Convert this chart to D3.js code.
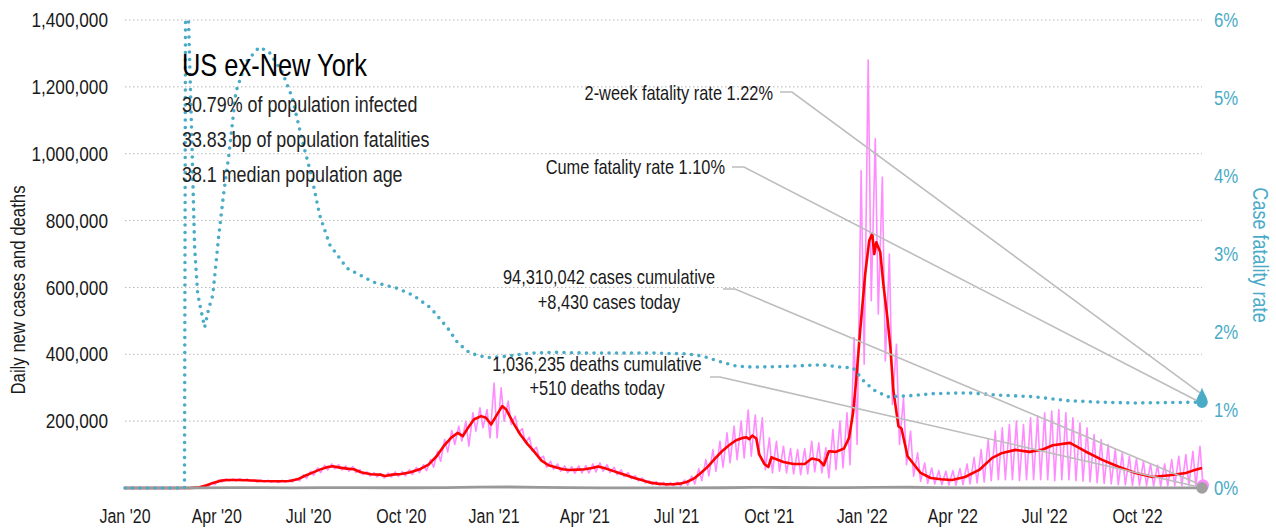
<!DOCTYPE html>
<html><head><meta charset="utf-8">
<script src="https://cdn.jsdelivr.net/npm/d3@7"></script>
<style>
html,body{margin:0;padding:0;background:#fff;}
svg text{font-family:"Liberation Sans",Arial,sans-serif;}
</style></head><body>
<svg id="chart" width="1276" height="529"></svg>
<script>
// ---------------- DATA ----------------
const startDate = "2020-01-01";
const endDate = "2022-12-04";

const xTickDates = ["2020-01-01","2020-04-01","2020-07-01","2020-10-01","2021-01-01","2021-04-01","2021-07-01","2021-10-01","2022-01-01","2022-04-01","2022-07-01","2022-10-01"];
const xTickLabels = ["Jan '20","Apr '20","Jul '20","Oct '20","Jan '21","Apr '21","Jul '21","Oct '21","Jan '22","Apr '22","Jul '22","Oct '22"];
const leftTicks = [200000,400000,600000,800000,1000000,1200000,1400000];
const rightTicks = [0,1,2,3,4,5,6];

// 7-day average of new cases (thousands)
const avgDates = ["2020-01-01","2020-03-05","2020-03-15","2020-03-22","2020-03-29","2020-04-05","2020-04-12","2020-04-20","2020-05-01","2020-05-15","2020-06-01","2020-06-12","2020-06-20","2020-06-27","2020-07-05","2020-07-12","2020-07-20","2020-07-25","2020-08-01","2020-08-08","2020-08-15","2020-08-22","2020-09-01","2020-09-10","2020-09-15","2020-09-22","2020-10-01","2020-10-10","2020-10-20","2020-10-28","2020-11-05","2020-11-12","2020-11-20","2020-11-26","2020-12-01","2020-12-05","2020-12-12","2020-12-19","2020-12-24","2020-12-29","2021-01-03","2021-01-09","2021-01-13","2021-01-20","2021-01-27","2021-02-03","2021-02-10","2021-02-17","2021-02-24","2021-03-03","2021-03-10","2021-03-17","2021-03-25","2021-04-01","2021-04-08","2021-04-14","2021-04-21","2021-04-28","2021-05-05","2021-05-12","2021-05-20","2021-05-28","2021-06-05","2021-06-12","2021-06-20","2021-06-27","2021-07-04","2021-07-11","2021-07-18","2021-07-25","2021-08-01","2021-08-08","2021-08-15","2021-08-22","2021-08-29","2021-09-05","2021-09-08","2021-09-11","2021-09-14","2021-09-18","2021-09-21","2021-09-26","2021-09-30","2021-10-03","2021-10-06","2021-10-15","2021-10-25","2021-11-05","2021-11-12","2021-11-19","2021-11-24","2021-11-29","2021-12-06","2021-12-14","2021-12-19","2021-12-23","2021-12-26","2021-12-30","2022-01-04","2022-01-08","2022-01-11","2022-01-13","2022-01-15","2022-01-19","2022-01-22","2022-01-26","2022-01-29","2022-02-01","2022-02-06","2022-02-09","2022-02-15","2022-02-28","2022-03-10","2022-03-20","2022-03-31","2022-04-13","2022-04-27","2022-05-10","2022-05-20","2022-06-02","2022-06-16","2022-06-29","2022-07-09","2022-07-26","2022-08-10","2022-08-27","2022-09-13","2022-09-29","2022-10-16","2022-11-02","2022-11-18","2022-11-25","2022-12-04"];
const avgCasesK = [0,0,2,8,16,22,24,24,23,21,20,21,26,36,46,55,63,65,61,58,56,47,41,40,36,40,42,47,57,70,95,125,152,165,155,175,205,215,210,190,215,245,235,195,160,132,108,82,68,62,56,54,55,56,60,64,59,52,45,38,30,23,16,13,11,11,13,18,28,45,64,88,110,128,143,150,152,146,157,148,100,72,63,92,88,78,72,72,88,84,68,110,108,118,150,225,320,470,640,740,760,700,735,705,610,510,420,290,185,178,95,45,30,26,24,33,54,90,105,114,108,115,128,135,110,84,63,45,33,38,45,52,60];

// Daily new cases: weekly high and low of the daily swings (thousands), one pair per week from startDate
const pinkHighK = [0,0,0,0,0,0,0,0,0,0.2,1,6,15,24,27,27,28,27,25,24,23,22,23,24,29,39,50,60,68,72,70,66,64,55,48,46,42,45,48,49,55,62,70,85,110,145,172,185,200,225,240,235,314,300,260,215,178,152,122,95,80,72,66,64,66,67,72,75,70,62,54,46,37,30,22,19,17,16,18,24,36,58,85,115,140,165,185,200,233,218,210,150,140,125,118,115,118,140,135,120,175,200,225,450,950,1280,1045,930,700,430,270,170,105,75,60,52,50,52,58,72,92,115,145,170,180,190,200,190,210,215,225,230,235,225,210,195,180,160,145,130,115,105,95,88,80,72,68,72,85,95,100,110,125];
const pinkLowK = [0,0,0,0,0,0,0,0,0,0,0.5,3,10,18,21,21,21,20,18,18,17,16,17,18,21,29,38,46,54,57,54,50,46,40,36,33,30,33,35,36,40,46,52,62,80,108,130,140,125,170,180,150,150,200,190,165,135,110,88,62,56,50,46,44,45,45,48,50,46,40,34,28,21,15,10,8,6,6,6,8,12,22,36,50,62,75,85,90,95,100,55,45,50,45,42,40,42,48,45,30,55,60,70,130,370,560,520,380,250,130,70,35,20,14,12,10,9,9,10,12,15,18,22,25,25,25,22,25,25,25,25,22,25,25,22,20,18,16,14,12,10,9,8,8,7,6,6,6,7,7,8,5,8];
const casesToday = 8430;
const deathsToday = 510;

// Daily deaths, monthly level
const deathDates = ["2020-01-01","2020-02-15","2020-03-15","2020-04-15","2020-05-15","2020-06-15","2020-07-15","2020-08-15","2020-09-15","2020-10-15","2020-11-15","2020-12-15","2021-01-15","2021-02-15","2021-03-15","2021-04-15","2021-05-15","2021-06-15","2021-07-15","2021-08-15","2021-09-15","2021-10-15","2021-11-15","2021-12-15","2022-01-15","2022-02-15","2022-03-15","2022-04-15","2022-05-15","2022-06-15","2022-07-15","2022-08-15","2022-09-15","2022-10-15","2022-11-15","2022-12-04"];
const deathValues = [0,0,150,1300,1300,650,850,1000,750,750,1150,2400,3000,2100,1100,650,550,300,250,750,1800,1500,1050,1200,1900,2200,1000,430,300,300,400,450,400,340,320,510];

// Case fatality rate (%)
const cfrDates = ["2020-01-01","2020-02-29","2020-03-01","2020-03-04","2020-03-07","2020-03-10","2020-03-13","2020-03-16","2020-03-20","2020-03-24","2020-03-28","2020-03-31","2020-04-03","2020-04-08","2020-04-13","2020-04-20","2020-04-30","2020-05-13","2020-05-23","2020-06-05","2020-06-15","2020-06-25","2020-07-04","2020-07-12","2020-07-22","2020-08-08","2020-09-03","2020-09-27","2020-10-13","2020-10-30","2020-11-16","2020-11-26","2020-12-08","2020-12-25","2021-01-14","2021-02-06","2021-03-01","2021-04-03","2021-05-06","2021-06-08","2021-07-11","2021-07-27","2021-08-13","2021-08-30","2021-09-16","2021-10-20","2021-11-22","2021-12-10","2021-12-23","2022-01-02","2022-01-12","2022-01-26","2022-02-15","2022-03-13","2022-04-15","2022-05-18","2022-06-20","2022-07-24","2022-08-25","2022-09-27","2022-12-04"];
const cfrValues = [0,0,6.0,6.0,4.6,3.1,2.5,2.3,2.06,2.3,2.47,2.85,3.24,3.79,4.27,5.08,5.46,5.65,5.59,5.33,5.0,4.44,4.0,3.5,3.12,2.82,2.64,2.56,2.47,2.31,2.05,1.86,1.73,1.67,1.69,1.73,1.74,1.73,1.73,1.73,1.72,1.69,1.62,1.56,1.55,1.56,1.58,1.55,1.54,1.38,1.26,1.17,1.18,1.21,1.22,1.19,1.17,1.12,1.10,1.09,1.10];

const cfr2Week = 1.22, cfrCume = 1.10;
const titleText = "US ex-New York";
const subLines = ["30.79% of population infected","33.83 bp of population fatalities","38.1 median population age"];

// ---------------- CHART ----------------
const parse = d3.utcParse("%Y-%m-%d");
const svg = d3.select("#chart");
const x = d3.scaleUtc().domain([parse(startDate), parse(endDate)]).range([125, 1202]);
const yL = d3.scaleLinear().domain([0, 1400000]).range([488, 20]);
const yR = d3.scaleLinear().domain([0, 6]).range([488, 20]);

const TEAL = "#4aabc7", GRID = "#b5b5b5", FONT_COL = "#1a1a1a";
const NARROW = 0.82;

// condensed text helper (emulates a narrow typeface)
function txt(g, px, py, s, o) {
  o = o || {};
  const rot = o.rotate ? ` rotate(${o.rotate})` : "";
  return g.append("text")
    .attr("transform", `translate(${px},${py})${rot} scale(${NARROW},1)`)
    .attr("text-anchor", o.anchor || "start")
    .attr("dominant-baseline", o.baseline || "central")
    .attr("font-size", o.size || 20)
    .attr("fill", o.fill || FONT_COL)
    .text(s);
}

svg.append("defs").append("clipPath").attr("id","plot")
  .append("rect").attr("x",120).attr("y",18).attr("width",1090).attr("height",475);

// grid
svg.append("g").selectAll("line").data(leftTicks).join("line")
  .attr("x1",125).attr("x2",1202).attr("y1",d=>yL(d)).attr("y2",d=>yL(d))
  .attr("stroke",GRID).attr("stroke-width",1).attr("stroke-dasharray","1.5,2.5");

const axG = svg.append("g");
leftTicks.forEach(d=>txt(axG, 108, yL(d), d3.format(",")(d), {anchor:"end", size:21}));
rightTicks.forEach(d=>txt(axG, 1214, yR(d), d+"%", {anchor:"start", size:20.5, fill:TEAL}));
xTickDates.forEach((d,i)=>txt(axG, x(parse(d)), 516, xTickLabels[i], {anchor:"middle", size:19.5}));

txt(axG, 18, 290, "Daily new cases and deaths", {anchor:"middle", size:20.5, rotate:-90});
txt(axG, 1261, 255, "Case fatality rate", {anchor:"middle", size:22, rotate:90, fill:TEAL});

const plot = svg.append("g").attr("clip-path","url(#plot)");

// pink daily cases
const start = parse(startDate);
const pinkPts = [];
pinkHighK.forEach((h,i)=>{
  pinkPts.push([d3.utcDay.offset(start, 7*i+2), h*1000]);
  pinkPts.push([d3.utcDay.offset(start, 7*i+5), pinkLowK[i]*1000]);
});
pinkPts.push([parse(endDate), casesToday]);
const lineL = d3.line().x(d=>x(d[0])).y(d=>yL(d[1]));
plot.append("path").datum(pinkPts).attr("d",lineL)
  .attr("fill","none").attr("stroke","#ff8cff").attr("stroke-width",1.6).attr("stroke-linejoin","round");

// red 7-day average
const avgPts = avgDates.map((d,i)=>[parse(d), avgCasesK[i]*1000]);
plot.append("path").datum(avgPts).attr("d",lineL)
  .attr("fill","none").attr("stroke","#ff0000").attr("stroke-width",2.6).attr("stroke-linejoin","round");

// deaths
const deathPts = deathDates.map((d,i)=>[parse(d), deathValues[i]]);
plot.append("path").datum(deathPts).attr("d",lineL)
  .attr("fill","none").attr("stroke","#999").attr("stroke-width",2.8);

// CFR dotted
const cfrPts = cfrDates.map((d,i)=>[parse(d), cfrValues[i]]);
plot.append("path").datum(cfrPts)
  .attr("d", d3.line().x(d=>x(d[0])).y(d=>yR(d[1])))
  .attr("fill","none").attr("stroke",TEAL).attr("stroke-width",3.6)
  .attr("stroke-linecap","round").attr("stroke-dasharray","0,7.5");

// annotations
const endX = x(parse(endDate));
const notes = [
  {lines:["2-week fatality rate " + cfr2Week.toFixed(2) + "%"], tx:773, ty:[93], anchor:"end", lx:[780,792], ly:92, ex:endX-2, ey:yR(cfr2Week)},
  {lines:["Cume fatality rate " + cfrCume.toFixed(2) + "%"], tx:725, ty:[167], anchor:"end", lx:[732,744], ly:167, ex:endX-2, ey:yR(cfrCume)},
  {lines:["94,310,042 cases cumulative","+8,430 cases today"], tx:609, ty:[277,302], anchor:"middle", lx:[723,735], ly:289, ex:endX, ey:yL(casesToday)},
  {lines:["1,036,235 deaths cumulative","+510 deaths today"], tx:597, ty:[364,388], anchor:"middle", lx:[710,720], ly:377, ex:endX, ey:yL(deathsToday)}
];
const ag = svg.append("g");
notes.forEach(n=>{
  ag.append("path").attr("d",`M${n.lx[0]},${n.ly}L${n.lx[1]},${n.ly}L${n.ex},${n.ey}`)
    .attr("fill","none").attr("stroke","#bdbdbd").attr("stroke-width",1.6);
});

// end markers
svg.append("circle").attr("cx",endX+1).attr("cy",yL(casesToday)).attr("r",6).attr("fill","#ff8cff");
svg.append("circle").attr("cx",endX).attr("cy",yL(deathsToday)).attr("r",5.8).attr("fill","#a0a0a0");
const cx = endX, cy = yR(cfrCume), r = 5.8;
svg.append("path")
  .attr("d",`M${cx},${cy-15} C${cx+1},${cy-10} ${cx+r},${cy-5} ${cx+r},${cy} A${r},${r} 0 1,1 ${cx-r},${cy} C${cx-r},${cy-5} ${cx-1},${cy-10} ${cx},${cy-15} Z`)
  .attr("fill",TEAL);

notes.forEach(n=>{
  n.lines.forEach((t,j)=>txt(ag, n.tx, n.ty[j], t, {anchor:n.anchor, size:20}));
});

// title block
const tg = svg.append("g");
txt(tg, 182, 76, titleText, {size:31, baseline:"alphabetic", fill:"#000"});
subLines.forEach((t,i)=>txt(tg, 182, 112+35*i, t, {size:21.8, baseline:"alphabetic", fill:"#222"}));
</script></body></html>
